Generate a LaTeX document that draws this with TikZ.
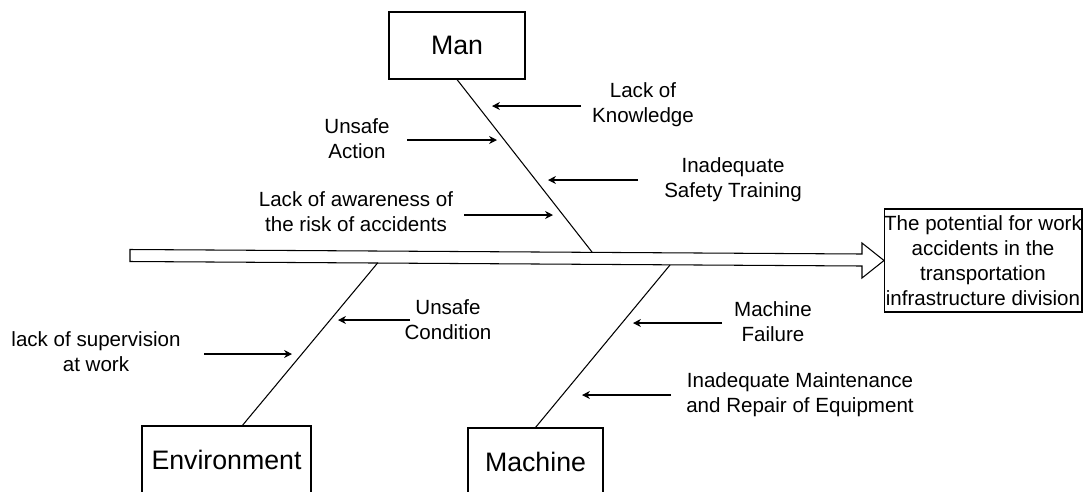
\documentclass[tikz,border=0pt]{standalone}
\usepackage{fontspec}
\setmainfont{Liberation Sans}
\usetikzlibrary{arrows.meta}

\newcommand\lblsize{\fontsize{11.7}{14.2}\selectfont}
\newcommand\boxsize{\fontsize{15.2}{18}\selectfont}

\tikzset{
  catbox/.style={draw,inner sep=0pt,font=\boxsize},
  lbl/.style={align=center,font=\lblsize,inner sep=1pt},
  cause/.style={-{Stealth[length=4.5pt,width=4.5pt]}}
}

\begin{document}
\begin{tikzpicture}[x=0.02cm,y=-0.02cm,line width=0.6pt]
			\path[use as bounding box,clip] (0,0) rectangle (1085,491);
			% spine
			\draw (130,249.5) -- (862,254) -- (862,243) -- (884,260.5) -- (862,278) -- (862,266) -- (130,261.5) -- cycle;
			\node[draw,lbl,inner sep=0pt,minimum width=3.96cm,minimum height=2.06cm] (effect) at (983,260.5)
				{The potential for work\\accidents in the\\transportation\\infrastructure division};
			% categories
			\node[catbox,minimum width=2.72cm,minimum height=1.34cm] (man) at (457,45.5) {Man};
			\node[catbox,minimum width=3.38cm,minimum height=1.34cm] (env) at (226.5,459.5) {Environment};
			\node[catbox,minimum width=2.7cm,minimum height=1.34cm] (mach) at (535.5,461.5) {Machine};
			\coordinate (sman) at (592,252);
			\coordinate (senv) at (378,262.5);
			\coordinate (smach) at (670,265);
			\draw (man.south) -- (sman);
			\draw (env.65) -- (senv);
			\draw (mach.north) -- (smach);
			% causes
			\node[lbl] (know) at (643,104.5) {Lack of\\Knowledge};
			\node[lbl] (uact) at (357,139) {Unsafe\\Action};
			\node[lbl] (train) at (733,179.5) {Inadequate\\Safety Training};
			\node[lbl] (aware) at (356,212) {Lack of awareness of\\the risk of accidents};
			\node[lbl] (ucond) at (448,319.5) {Unsafe\\Condition};
			\node[lbl] (superv) at (96,352) {lack of supervision\\at work};
			\node[lbl] (fail) at (773,321.5) {Machine\\Failure};
			\node[lbl] (maint) at (800,394.5) {Inadequate Maintenance\\and Repair of Equipment};
			\foreach \n/\xa/\xb/\yy in {know/581/492/106, uact/407/497/140, train/638/548/180, aware/464/553/215,
				ucond/410/338/320, superv/204/292/354, fail/722/633/323, maint/671/582/395}{
				\coordinate (\n-s) at (\xa,\yy);
				\coordinate (\n-t) at (\xb,\yy);
				\draw[cause] (\n-s) -- (\n-t);
			}
		\end{tikzpicture}
\end{document}
